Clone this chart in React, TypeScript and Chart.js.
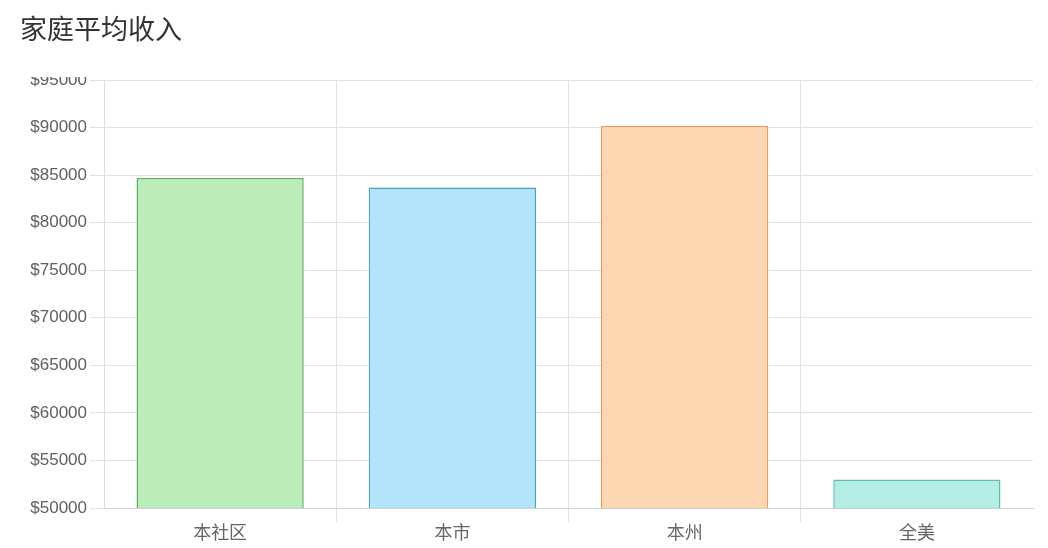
import React, { useRef, useEffect } from 'react';
import { Chart, registerables, ChartConfiguration } from 'chart.js';

Chart.register(...registerables);

const categories = ['本社区', '本市', '本州', '全美'];
const incomeValues = [84700, 83700, 90200, 53000];
const barFills = ['#bbecba', '#b3e4fc', '#fdd6b2', '#b4ede3'];
const barBorders = ['#5cb35c', '#3fa9bd', '#ef9a55', '#5cbfae'];
const yMin = 50000;
const yMax = 95000;
const yStep = 5000;

const FONT = "'Liberation Sans', 'Noto Sans CJK SC', sans-serif";
const GRID = '#e2e2e2';
const NONE = 'rgba(0,0,0,0)';

// clip everything drawn above the top grid line, like the original
const clipTop = {
  id: 'clipTop',
  beforeDraw(chart: Chart) {
    const { ctx, chartArea, width, height } = chart;
    ctx.save();
    ctx.beginPath();
    ctx.rect(0, chartArea.top - 3, width, height);
    ctx.clip();
  },
  afterDraw(chart: Chart) {
    chart.ctx.restore();
  },
};

const IncomeChart: React.FC = () => {
  const canvasRef = useRef<HTMLCanvasElement>(null);
  const chartRef = useRef<Chart | null>(null);

  useEffect(() => {
    if (!canvasRef.current) return;
    if (chartRef.current) chartRef.current.destroy();

    const config: ChartConfiguration = {
      type: 'bar',
      data: {
        labels: categories,
        datasets: [
          {
            label: '家庭平均收入',
            data: incomeValues,
            backgroundColor: barFills,
            borderColor: barBorders,
            borderWidth: 1.5,
          },
        ],
      },
      options: {
        responsive: true,
        maintainAspectRatio: false,
        animation: false,
        layout: {
          padding: { top: 80, right: 15, bottom: 0, left: 0 },
        },
        plugins: {
          legend: { display: false },
          title: { display: false },
          tooltip: { enabled: false },
        },
        scales: {
          x: {
            afterFit: (scale: any) => {
              scale.height = 40;
            },
            grid: {
              // no line on the right edge (the extra offset line has no tick)
              color: (ctx: any) => (ctx.tick ? GRID : NONE),
              tickColor: (ctx: any) => (ctx.tick && ctx.index > 0 ? GRID : NONE),
              tickLength: 15,
            },
            border: { color: '#d2d2d2' },
            ticks: {
              color: '#666',
              padding: 0,
              font: { family: FONT, size: 18 },
            },
          },
          y: {
            min: yMin,
            max: yMax,
            afterFit: (scale: any) => {
              scale.width = 104;
            },
            grid: {
              color: GRID,
              tickLength: 14,
            },
            border: { color: '#dcdcdc' },
            ticks: {
              stepSize: yStep,
              color: '#606060',
              padding: 3,
              font: { family: FONT, size: 17 },
              callback: (value) => '$' + value,
            },
          },
        },
      },
      plugins: [clipTop],
    };

    chartRef.current = new Chart(canvasRef.current, config);

    return () => {
      if (chartRef.current) {
        chartRef.current.destroy();
        chartRef.current = null;
      }
    };
  }, []);

  return (
    <div style={{ position: 'absolute', left: 0, top: 0, width: 1048, height: 548 }}>
      <canvas ref={canvasRef} />
    </div>
  );
};

export default function App() {
  return (
    <div
      style={{
        position: 'fixed',
        left: 0,
        top: 0,
        width: 1048,
        height: 548,
        background: '#fff',
        overflow: 'hidden',
      }}
    >
      <IncomeChart />
      <div
        style={{
          position: 'absolute',
          left: 20,
          top: 14,
          fontFamily: "'Noto Sans CJK SC', sans-serif",
          fontSize: 27,
          lineHeight: '27px',
          color: '#333',
        }}
      >
        家庭平均收入
      </div>
    </div>
  );
}
